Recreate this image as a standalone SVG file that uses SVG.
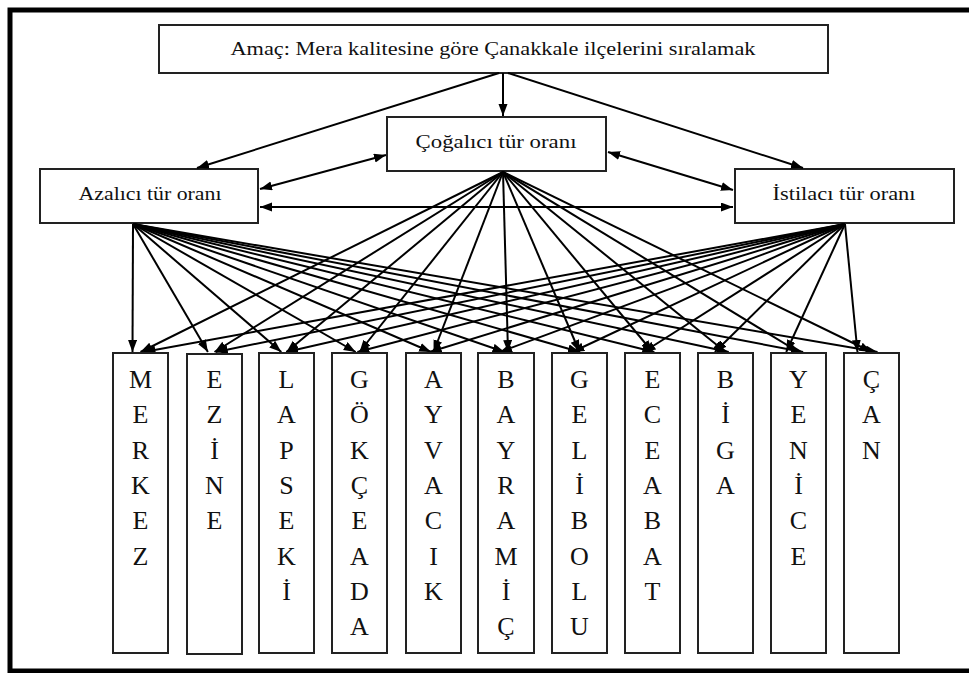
<svg xmlns="http://www.w3.org/2000/svg" width="969" height="673" viewBox="0 0 969 673">
<defs>
<style>
.box{fill:#fff;stroke:#222;stroke-width:2}
.lbl{font-family:"Liberation Serif","Times New Roman",serif;font-size:18px;fill:#111;text-anchor:middle}
.let{font-family:"Liberation Serif","Times New Roman",serif;font-size:26px;fill:#111;text-anchor:middle}
.c line{stroke:#000;stroke-width:2;marker-end:url(#ah)}
.c line.d{marker-start:url(#ahs)}
</style>
<marker id="ah" markerUnits="userSpaceOnUse" markerWidth="12" markerHeight="10" refX="12" refY="4.5" orient="auto"><path d="M0,0 L12,4.5 L0,9 z" fill="#000"/></marker>
<marker id="ahs" markerUnits="userSpaceOnUse" markerWidth="12" markerHeight="10" refX="12" refY="4.5" orient="auto-start-reverse"><path d="M0,0 L12,4.5 L0,9 z" fill="#000"/></marker>
</defs>
<rect x="0" y="0" width="969" height="673" fill="#fff"/>
<rect x="10" y="10" width="975" height="661" fill="none" stroke="#000" stroke-width="5"/>

<g id="goal"><rect class="box" x="159" y="25" width="669" height="48"/><text class="lbl" x="493" y="55" textLength="525" lengthAdjust="spacingAndGlyphs">Amaç: Mera kalitesine göre Çanakkale ilçelerini sıralamak</text></g>
<g id="cogalici"><rect class="box" x="387" y="117" width="219" height="54"/><text class="lbl" x="496" y="148" textLength="161" lengthAdjust="spacingAndGlyphs">Çoğalıcı tür oranı</text></g>
<g id="azalici"><rect class="box" x="40" y="169" width="218" height="54"/><text class="lbl" x="150" y="200" textLength="143" lengthAdjust="spacingAndGlyphs">Azalıcı tür oranı</text></g>
<g id="istilaci"><rect class="box" x="735" y="169" width="219" height="54"/><text class="lbl" x="844" y="200" textLength="143" lengthAdjust="spacingAndGlyphs">İstilacı tür oranı</text></g>

<g class="c" id="connectors">
<line x1="499" y1="73" x2="197" y2="168"/>
<line x1="503" y1="73" x2="503" y2="116"/>
<line x1="508" y1="73" x2="803" y2="168"/>
<line class="d" x1="260" y1="189" x2="386" y2="155"/>
<line class="d" x1="608" y1="152" x2="733" y2="190"/>
<line class="d" x1="260" y1="207" x2="733" y2="207"/>
<!-- Azalici fan -->
<line x1="133" y1="224" x2="132.5" y2="352"/>
<line x1="133" y1="224" x2="207.9" y2="352"/>
<line x1="133" y1="224" x2="281.3" y2="352"/>
<line x1="133" y1="224" x2="355.7" y2="352"/>
<line x1="133" y1="224" x2="431.1" y2="352"/>
<line x1="133" y1="224" x2="504.5" y2="352"/>
<line x1="133" y1="224" x2="579.9" y2="352"/>
<line x1="133" y1="224" x2="654.3" y2="352"/>
<line x1="133" y1="224" x2="728.7" y2="352"/>
<line x1="133" y1="224" x2="803.1" y2="352"/>
<line x1="133" y1="224" x2="877.5" y2="352"/>
<!-- Cogalici fan -->
<line x1="503" y1="172" x2="140.5" y2="352"/>
<line x1="503" y1="172" x2="214.5" y2="352"/>
<line x1="503" y1="172" x2="286.5" y2="352"/>
<line x1="503" y1="172" x2="359.5" y2="352"/>
<line x1="503" y1="172" x2="433.5" y2="352"/>
<line x1="503" y1="172" x2="508" y2="352"/>
<line x1="503" y1="172" x2="579.5" y2="352"/>
<line x1="503" y1="172" x2="652.5" y2="352"/>
<line x1="503" y1="172" x2="725.5" y2="352"/>
<line x1="503" y1="172" x2="798.5" y2="352"/>
<line x1="503" y1="172" x2="871.5" y2="352"/>
<!-- Istilaci fan -->
<line x1="845" y1="224" x2="143.5" y2="352"/>
<line x1="845" y1="224" x2="215.8" y2="352"/>
<line x1="845" y1="224" x2="286.1" y2="352"/>
<line x1="845" y1="224" x2="357.4" y2="352"/>
<line x1="845" y1="224" x2="429.7" y2="352"/>
<line x1="845" y1="224" x2="500" y2="352"/>
<line x1="845" y1="224" x2="572.3" y2="352"/>
<line x1="845" y1="224" x2="643.6" y2="352"/>
<line x1="845" y1="224" x2="714.9" y2="352"/>
<line x1="845" y1="224" x2="786.2" y2="352"/>
<line x1="845" y1="224" x2="857.5" y2="352"/>
</g>

<g id="merkez"><rect class="box" x="113" y="353" width="55" height="300"/><text class="let" x="140.5" y="388"><tspan x="140.5">M</tspan><tspan x="140.5" dy="35.3">E</tspan><tspan x="140.5" dy="35.3">R</tspan><tspan x="140.5" dy="35.3">K</tspan><tspan x="140.5" dy="35.3">E</tspan><tspan x="140.5" dy="35.3">Z</tspan></text></g>
<g id="ezine"><rect class="box" x="187" y="354" width="55" height="300"/><text class="let" x="214.5" y="388"><tspan x="214.5">E</tspan><tspan x="214.5" dy="35.3">Z</tspan><tspan x="214.5" dy="35.3">İ</tspan><tspan x="214.5" dy="35.3">N</tspan><tspan x="214.5" dy="35.3">E</tspan></text></g>
<g id="lapseki"><rect class="box" x="259" y="353" width="55" height="300"/><text class="let" x="286.5" y="388"><tspan x="286.5">L</tspan><tspan x="286.5" dy="35.3">A</tspan><tspan x="286.5" dy="35.3">P</tspan><tspan x="286.5" dy="35.3">S</tspan><tspan x="286.5" dy="35.3">E</tspan><tspan x="286.5" dy="35.3">K</tspan><tspan x="286.5" dy="35.3">İ</tspan></text></g>
<g id="gokceada"><rect class="box" x="332" y="353" width="55" height="300"/><text class="let" x="359.5" y="388"><tspan x="359.5">G</tspan><tspan x="359.5" dy="35.3">Ö</tspan><tspan x="359.5" dy="35.3">K</tspan><tspan x="359.5" dy="35.3">Ç</tspan><tspan x="359.5" dy="35.3">E</tspan><tspan x="359.5" dy="35.3">A</tspan><tspan x="359.5" dy="35.3">D</tspan><tspan x="359.5" dy="35.3">A</tspan></text></g>
<g id="ayvacik"><rect class="box" x="406" y="353" width="55" height="300"/><text class="let" x="433.5" y="388"><tspan x="433.5">A</tspan><tspan x="433.5" dy="35.3">Y</tspan><tspan x="433.5" dy="35.3">V</tspan><tspan x="433.5" dy="35.3">A</tspan><tspan x="433.5" dy="35.3">C</tspan><tspan x="433.5" dy="35.3">I</tspan><tspan x="433.5" dy="35.3">K</tspan></text></g>
<g id="bayramic"><rect class="box" x="478" y="353" width="56" height="300"/><text class="let" x="506" y="388"><tspan x="506">B</tspan><tspan x="506" dy="35.3">A</tspan><tspan x="506" dy="35.3">Y</tspan><tspan x="506" dy="35.3">R</tspan><tspan x="506" dy="35.3">A</tspan><tspan x="506" dy="35.3">M</tspan><tspan x="506" dy="35.3">İ</tspan><tspan x="506" dy="35.3">Ç</tspan></text></g>
<g id="gelibolu"><rect class="box" x="552" y="353" width="55" height="300"/><text class="let" x="579.5" y="388"><tspan x="579.5">G</tspan><tspan x="579.5" dy="35.3">E</tspan><tspan x="579.5" dy="35.3">L</tspan><tspan x="579.5" dy="35.3">İ</tspan><tspan x="579.5" dy="35.3">B</tspan><tspan x="579.5" dy="35.3">O</tspan><tspan x="579.5" dy="35.3">L</tspan><tspan x="579.5" dy="35.3">U</tspan></text></g>
<g id="eceabat"><rect class="box" x="625" y="353" width="55" height="300"/><text class="let" x="652.5" y="388"><tspan x="652.5">E</tspan><tspan x="652.5" dy="35.3">C</tspan><tspan x="652.5" dy="35.3">E</tspan><tspan x="652.5" dy="35.3">A</tspan><tspan x="652.5" dy="35.3">B</tspan><tspan x="652.5" dy="35.3">A</tspan><tspan x="652.5" dy="35.3">T</tspan></text></g>
<g id="biga"><rect class="box" x="698" y="353" width="55" height="300"/><text class="let" x="725.5" y="388"><tspan x="725.5">B</tspan><tspan x="725.5" dy="35.3">İ</tspan><tspan x="725.5" dy="35.3">G</tspan><tspan x="725.5" dy="35.3">A</tspan></text></g>
<g id="yenice"><rect class="box" x="771" y="353" width="55" height="300"/><text class="let" x="798.5" y="388"><tspan x="798.5">Y</tspan><tspan x="798.5" dy="35.3">E</tspan><tspan x="798.5" dy="35.3">N</tspan><tspan x="798.5" dy="35.3">İ</tspan><tspan x="798.5" dy="35.3">C</tspan><tspan x="798.5" dy="35.3">E</tspan></text></g>
<g id="can"><rect class="box" x="844" y="353" width="55" height="300"/><text class="let" x="871.5" y="388"><tspan x="871.5">Ç</tspan><tspan x="871.5" dy="35.3">A</tspan><tspan x="871.5" dy="35.3">N</tspan></text></g>
</svg>
